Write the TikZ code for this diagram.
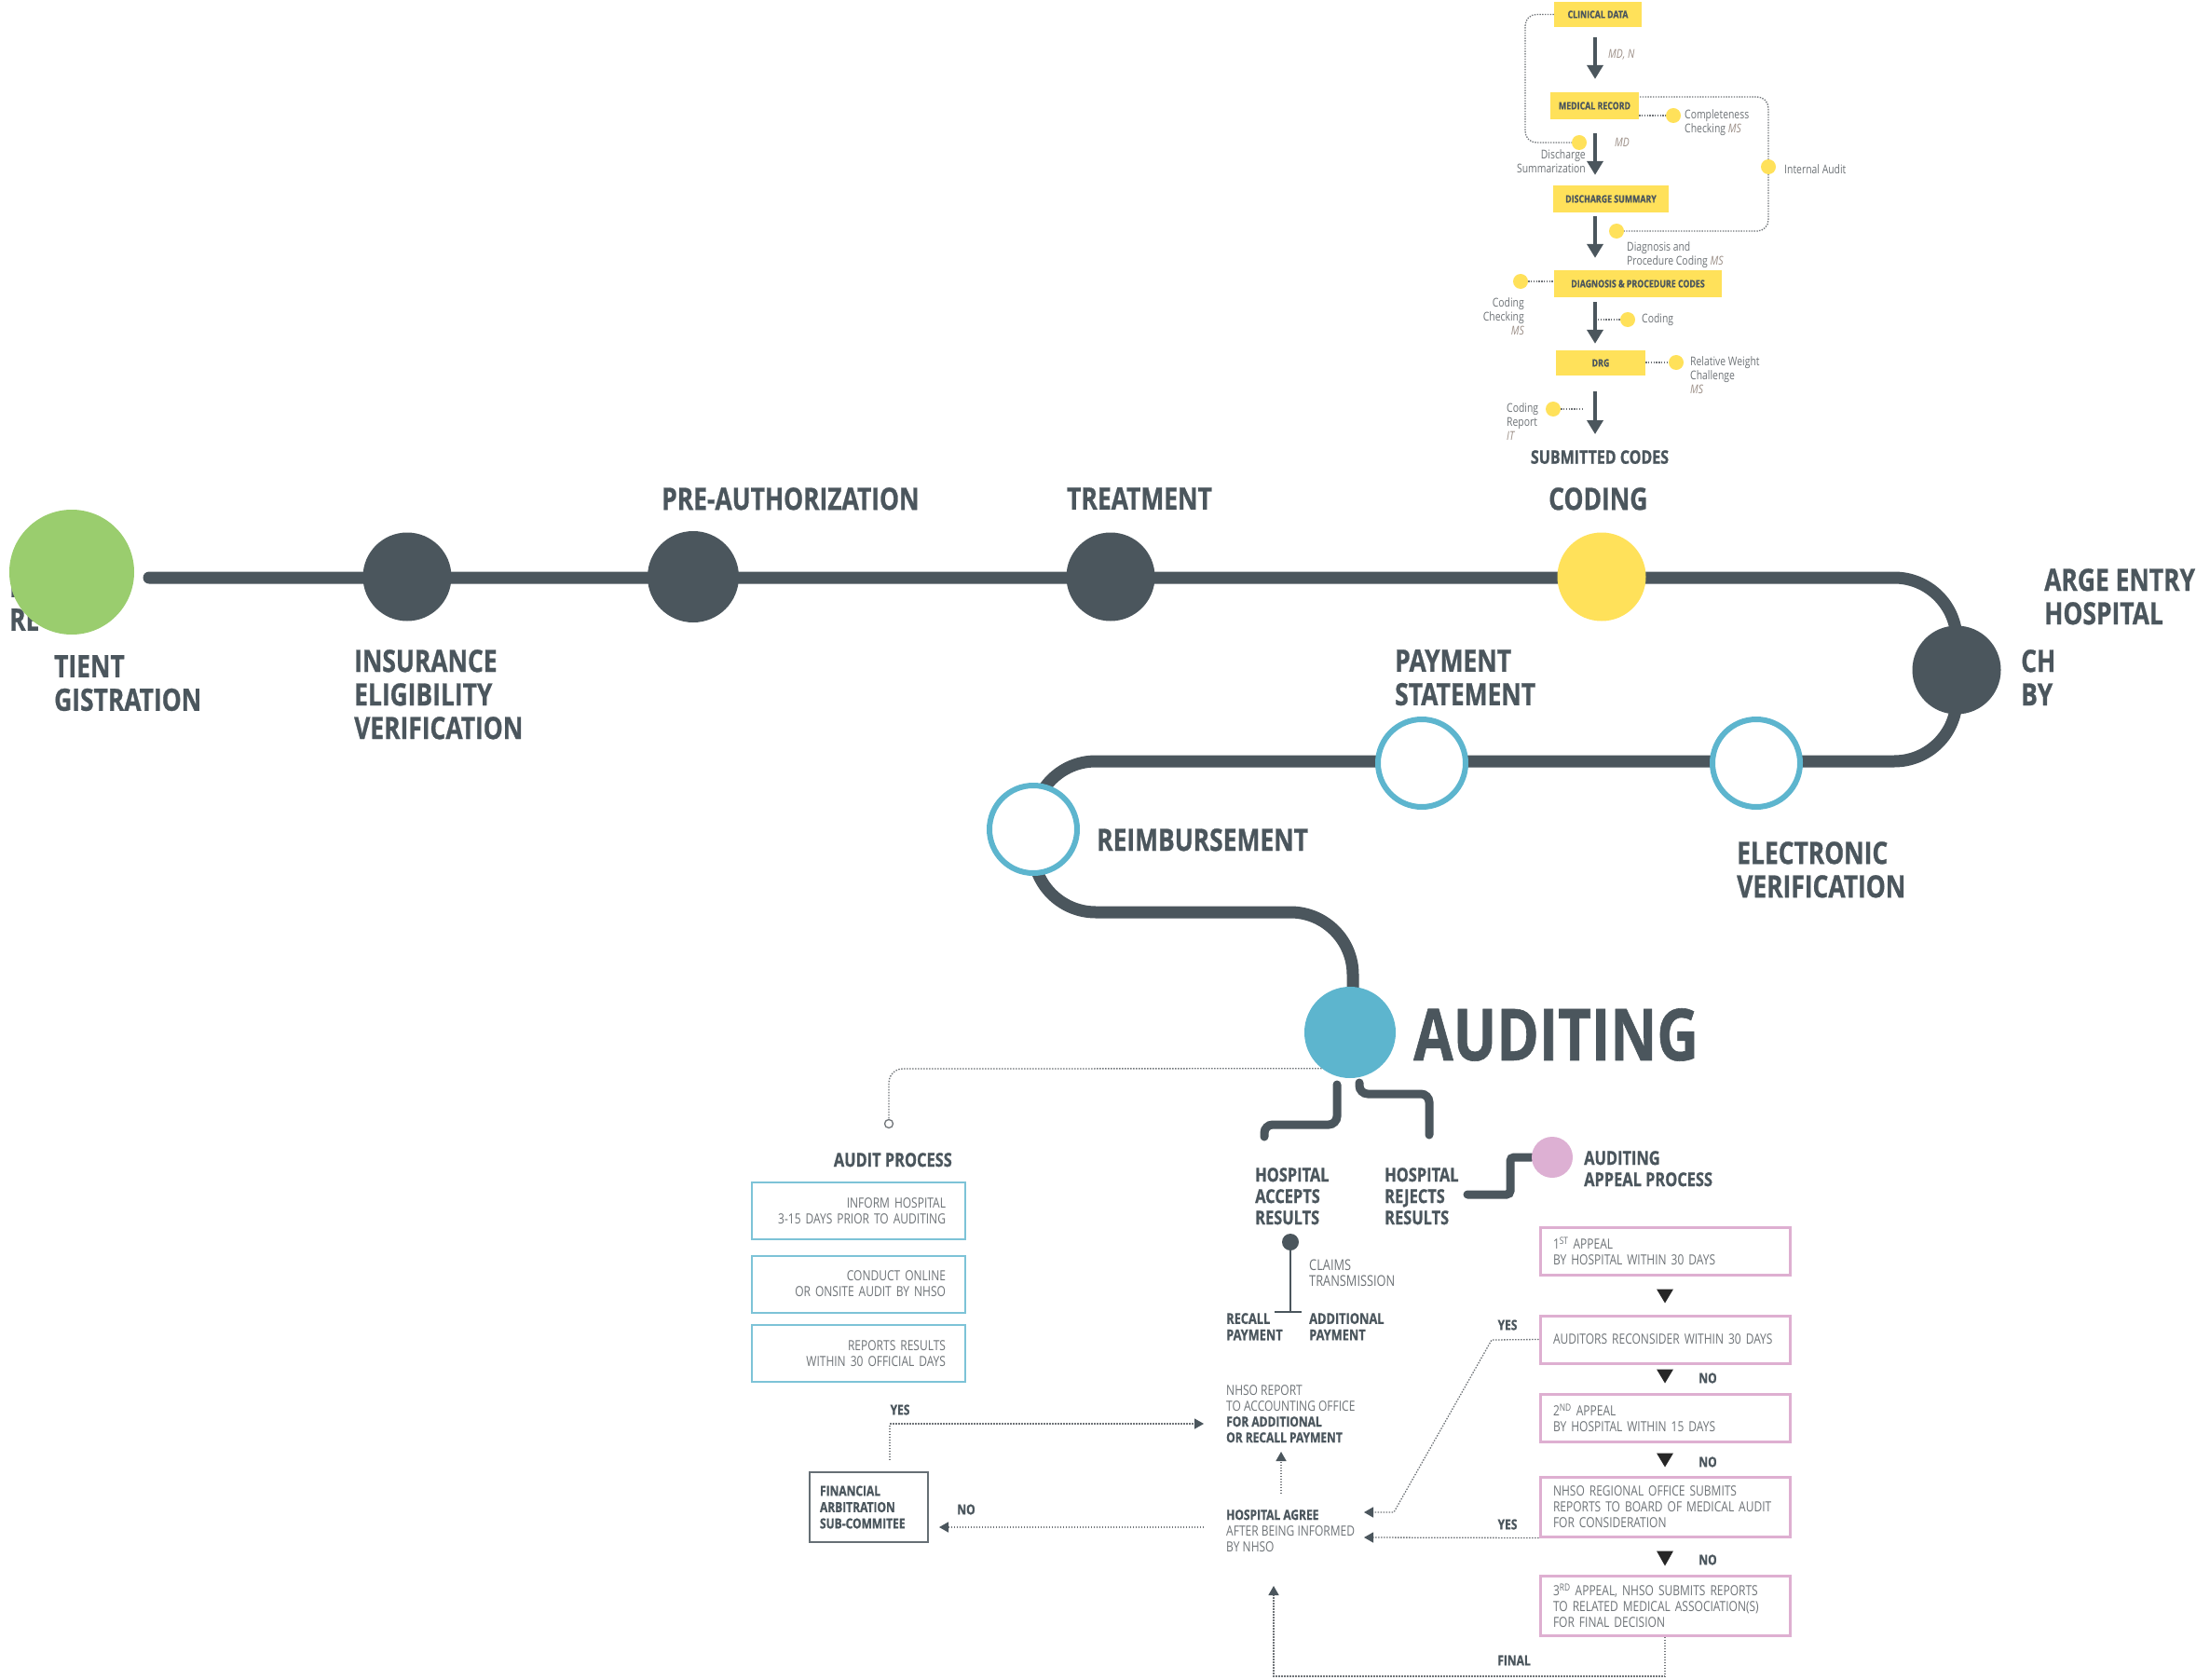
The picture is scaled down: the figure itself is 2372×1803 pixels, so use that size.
\documentclass[tikz,border=0pt]{standalone}
\usepackage{fontspec}
\setmainfont{Open Sans}[FakeStretch=0.8, BoldFeatures={FakeBold=0.8}]
\usetikzlibrary{arrows.meta,calc,backgrounds}
\definecolor{dk}{HTML}{4B565D}
\definecolor{grn}{HTML}{9ACD6E}
\definecolor{ylw}{HTML}{FFE15A}
\definecolor{blu}{HTML}{5DB5CE}
\definecolor{pnk}{HTML}{DDB0D3}
\definecolor{pnkb}{HTML}{DEAFD1}
\definecolor{lbb}{HTML}{7DC3D7}
\definecolor{gtx}{HTML}{6E7377}
\definecolor{brn}{HTML}{9B8E86}
\definecolor{dotc}{HTML}{707478}
\newcommand{\fsz}[2]{\fontsize{#1}{#2}\selectfont}
\begin{document}
\begin{tikzpicture}[x=1pt,y=-1pt,
  route/.style={draw=dk, line width=13, rounded corners=67, line cap=round},
  station/.style={circle, inner sep=0, fill=dk},
  ring/.style={circle, inner sep=0, draw=blu, line width=6, fill=white, minimum size=94},
  biglab/.style={font=\fsz{33}{36}\bfseries, text=dk, inner sep=0, align=left, anchor=north west},
  midlab/.style={font=\fsz{20.5}{23}\bfseries, text=dk, inner sep=0, align=left, anchor=north west},
  ybox/.style={fill=ylw, inner sep=0, font=\fsz{11}{12}\bfseries, text=dk},
  ydot/.style={circle, fill=ylw, inner sep=0, minimum size=16},
  flowarr/.style={draw=dk, line width=4, -{Triangle[width=17pt,length=15pt]}},
  cdots/.style={draw=dotc, line width=1.3, dash pattern=on 1.4pt off 1.4pt},
  small/.style={font=\fsz{13}{15}, text=gtx, inner sep=0, align=left},
  ital/.style={font=\fsz{13}{15}\itshape, text=brn, inner sep=0},
  branch/.style={draw=dk, line width=9, rounded corners=9, line cap=round},
  lbbox/.style={draw=lbb, line width=2, minimum width=229, minimum height=61, text width=187, align=right, inner xsep=21, inner ysep=0, font=\fsz{15}{17}, text=gtx},
  apbox/.style={draw=pnkb, line width=3, minimum width=268, text width=240, inner xsep=14, inner ysep=0, align=left, font=\fsz{15}{17}, text=gtx},
  gsm/.style={font=\fsz{15}{17}, text=gtx, inner sep=0, align=left, anchor=north west},
  bsm/.style={font=\fsz{16}{17.5}\bfseries, text=dk, inner sep=0, align=left, anchor=north west},
  yn/.style={font=\fsz{15}{17}\bfseries, text=dk, inner sep=0},
  ddots/.style={draw=dotc, line width=1.3, dash pattern=on 1.5pt off 1.5pt},
  darr/.style={ddots, -{Triangle[width=11pt,length=10pt,color=dk]}},
  tri/.style={fill=black!85}
]
\useasboundingbox (0,0) rectangle (2372,1803);

% ---------- main line stations ----------
\node[biglab] (plab) at (10,617) {P\\RE};
\node[station, fill=grn, minimum size=134] (reg) at (77,614) {};
\node[biglab] (reglab) at (58,703) {TIENT\\GISTRATION};
\node[station, minimum size=95] (ins) at (437,619) {};
\node[biglab] (inslab) at (380,697) {INSURANCE\\ELIGIBILITY\\VERIFICATION};
\node[station, minimum size=98] (pre) at (744,619) {};
\node[biglab] (prelab) at (710,523) {PRE-AUTHORIZATION};
\node[station, minimum size=95] (trt) at (1192,619) {};
\node[biglab] (trtlab) at (1145,523) {TREATMENT};
\node[station, fill=ylw, minimum size=95] (cod) at (1719,619) {};
\node[biglab] (codlab) at (1662,523) {CODING};
\node[station, minimum size=95] (dis) at (2100,719) {};
\node[biglab] (dislab1) at (2194,610) {ARGE ENTRY\\HOSPITAL};
\node[biglab] (dislab2) at (2169,697) {CH\\BY};
\node[ring] (elv) at (1885,819) {};
\node[biglab] (elvlab) at (1864,903) {ELECTRONIC\\VERIFICATION};
\node[ring] (pay) at (1526,819) {};
\node[biglab] (paylab) at (1497,697) {PAYMENT\\STATEMENT};
\node[ring] (rmb) at (1109,890) {};
\node[biglab] (rmblab) at (1177,889) {REIMBURSEMENT};
\node[station, fill=blu, minimum size=98] (aud) at (1449,1108) {};
\node[font=\fsz{77}{80}\bfseries, text=dk, inner sep=0, anchor=north west] (audlab) at (1517,1082) {AUDITING};
\coordinate (rs) at (160,620);
\coordinate (re) at (1452,1100);

% ---------- coding flow ----------
\node[ybox, minimum width=94, minimum height=27] (cd) at (1715,15.5) {CLINICAL DATA};
\node[ybox, minimum width=95, minimum height=29] (mr) at (1711.5,113.5) {MEDICAL RECORD};
\node[ybox, minimum width=124, minimum height=29] (ds) at (1729,213.5) {DISCHARGE SUMMARY};
\node[ybox, minimum width=180, minimum height=29] (dp) at (1758,304.5) {DIAGNOSIS \& PROCEDURE CODES};
\node[ybox, minimum width=96, minimum height=27] (drg) at (1718,389.5) {DRG};
\node[font=\fsz{20}{22}\bfseries, text=dk, inner sep=0, anchor=north] (sub) at (1717,483) {SUBMITTED CODES};
\coordinate (ax) at (1712,0);

\node[ydot] (d1) at (1695,153) {};
\node[ydot] (d2) at (1796,124) {};
\node[ydot] (d3) at (1898,179) {};
\node[ydot] (d4) at (1735,248) {};
\node[ydot] (d5) at (1632,302) {};
\node[ydot] (d6) at (1747,343) {};
\node[ydot] (d7) at (1799,389) {};
\node[ydot] (d8) at (1667,439) {};
\coordinate (ia0) at (1760,104);
\coordinate (c6) at (1715,343);
\coordinate (c8) at (1700,439);

\node[ital, anchor=west] (mdn) at (1726,59) {MD, N};
\node[ital, anchor=west] (md) at (1733,153) {MD};
\node[small, align=right, anchor=north east] (t1) at (1702,160) {Discharge\\Summarization};
\node[small, anchor=north west] (t2) at (1808,117) {Completeness\\Checking \textcolor{brn}{\itshape MS}};
\node[small, anchor=west] (t3) at (1915,182) {Internal Audit};
\node[small, anchor=north west] (t4) at (1746,259) {Diagnosis and\\Procedure Coding \textcolor{brn}{\itshape MS}};
\node[small, align=right, anchor=north east] (t5) at (1636,319) {Coding\\Checking\\\textcolor{brn}{\itshape MS}};
\node[small, anchor=west] (t6) at (1762,343) {Coding};
\node[small, anchor=north west] (t7) at (1814,382) {Relative Weight\\Challenge\\\textcolor{brn}{\itshape MS}};
\node[small, anchor=north west] (t8) at (1617,432) {Coding\\Report\\\textcolor{brn}{\itshape IT}};

% ---------- auditing area ----------
\node[circle, draw=dotc, line width=1.3, fill=white, inner sep=0, minimum size=9] (sc) at (954,1206) {};
\node[midlab, anchor=north east] (aplab) at (1022,1237) {AUDIT PROCESS};
\node[lbbox] (p1) at (921.5,1299.5) {INFORM HOSPITAL\\3-15 DAYS PRIOR TO AUDITING};
\node[lbbox] (p2) at (921.5,1378) {CONDUCT ONLINE\\OR ONSITE AUDIT BY NHSO};
\node[lbbox] (p3) at (921.5,1452.5) {REPORTS RESULTS\\WITHIN 30 OFFICIAL DAYS};

\node[midlab] (acc) at (1347,1253) {HOSPITAL\\ACCEPTS\\RESULTS};
\node[midlab] (rej) at (1486,1253) {HOSPITAL\\REJECTS\\RESULTS};
\node[station, fill=pnk, minimum size=44] (app) at (1666,1242) {};
\node[midlab] (applab) at (1700,1235) {AUDITING\\APPEAL PROCESS};
\coordinate (bl0) at (1435,1164);
\coordinate (bl1) at (1357,1220);
\coordinate (br0) at (1459,1162);
\coordinate (br1) at (1534,1218);
\coordinate (rj0) at (1575,1282);

\node[station, minimum size=18] (cl) at (1385,1333) {};
\coordinate (clb) at (1385,1408);
\coordinate (tl) at (1368,1408);
\coordinate (tr) at (1397,1408);
\node[font=\fsz{16}{17}, text=gtx, inner sep=0, align=left, anchor=north west] (cltxt) at (1405,1352) {CLAIMS\\TRANSMISSION};
\node[bsm] (recall) at (1316,1409) {RECALL\\PAYMENT};
\node[bsm] (addp) at (1405,1409) {ADDITIONAL\\PAYMENT};

\node[gsm] (rep) at (1316,1486) {NHSO REPORT\\TO ACCOUNTING OFFICE\\\textcolor{dk}{\bfseries FOR ADDITIONAL}\\\textcolor{dk}{\bfseries OR RECALL PAYMENT}};
\node[gsm] (agr) at (1316,1620) {\textcolor{dk}{\bfseries HOSPITAL AGREE}\\AFTER BEING INFORMED\\BY NHSO};
\coordinate (up0) at (1375,1603);
\coordinate (up1) at (1375,1558);

\node[apbox, minimum height=51] (b1) at (1787,1342.5) {1\textsuperscript{ST} APPEAL\\BY HOSPITAL WITHIN 30 DAYS};
\node[apbox, minimum height=51] (b2) at (1787,1437.5) {AUDITORS RECONSIDER WITHIN 30 DAYS};
\node[apbox, minimum height=51] (b3) at (1787,1521.5) {2\textsuperscript{ND} APPEAL\\BY HOSPITAL WITHIN 15 DAYS};
\node[apbox, minimum height=64] (b4) at (1787,1617) {NHSO REGIONAL OFFICE SUBMITS\\REPORTS TO BOARD OF MEDICAL AUDIT\\FOR CONSIDERATION};
\node[apbox, minimum height=64] (b5) at (1787,1723) {3\textsuperscript{RD} APPEAL, NHSO SUBMITS REPORTS\\TO RELATED MEDICAL ASSOCIATION(S)\\FOR FINAL DECISION};
\fill[tri] ($(b1.south)+(-9,14)$) -- ++(18,0) -- ++(-9,15) -- cycle;
\fill[tri] ($(b2.south)+(-9,5)$) -- ++(18,0) -- ++(-9,15) -- cycle;
\fill[tri] ($(b3.south)+(-9,11)$) -- ++(18,0) -- ++(-9,15) -- cycle;
\fill[tri] ($(b4.south)+(-9,14)$) -- ++(18,0) -- ++(-9,16) -- cycle;
\node[yn] (no1) at (1833,1479) {NO};
\node[yn] (no2) at (1833,1569) {NO};
\node[yn] (no3) at (1833,1674) {NO};
\node[yn] (yes1) at (1618,1422) {YES};
\node[yn] (yes2) at (1618,1636) {YES};
\node[yn] (fin) at (1625,1782) {FINAL};
\coordinate (y1a) at (1601,1438);
\coordinate (y1b) at (1496,1623);
\coordinate (y1c) at (1464,1623);
\coordinate (y2c) at (1464,1650);
\coordinate (fa) at (1787,1799);
\coordinate (fb) at (1367,1799);
\coordinate (fc) at (1367,1702);

\node[draw=dk!85, line width=2, minimum width=127, minimum height=75, text width=105, inner xsep=11, inner ysep=0, align=left, font=\fsz{15}{17.5}\bfseries, text=dk] (fas) at (932.5,1617.5) {FINANCIAL\\ARBITRATION\\SUB-COMMITEE};
\node[yn] (yes3) at (966,1513) {YES};
\node[yn] (no4) at (1037,1620) {NO};
\coordinate (fy0) at (955,1567);
\coordinate (fy1) at (955,1528);
\coordinate (fy2) at (1292,1528);
\coordinate (fn0) at (1292,1639);
\coordinate (fn1) at (1008,1639);

% ---------- connectors (below nodes) ----------
\begin{scope}[on background layer]
\fill[white] (0,0) rectangle (2372,1803);
\draw[route] (rs) -- (2100,620) -- (2100,817) -- (1109,817) -- (1109,979) -- (1452,979) -- (re);

\draw[flowarr, shorten <=11pt, shorten >=14pt] (cd.south -| ax) -- (mr.north -| ax);
\draw[flowarr, shorten <=15pt, shorten >=11pt] (mr.south -| ax) -- (ds.north -| ax);
\draw[flowarr, shorten <=4pt, shorten >=13pt] (ds.south -| ax) -- (dp.north -| ax);
\draw[flowarr, shorten <=5pt, shorten >=7pt] (dp.south -| ax) -- (drg.north -| ax);
\draw[flowarr, shorten <=17pt, shorten >=17pt] (drg.south -| ax) -- (sub.north -| ax);

\draw[cdots, rounded corners=12] (cd.west) -| (1637,153) -- (d1);
\draw[cdots] (mr.east |- d2) -- (d2);
\draw[cdots, rounded corners=12] (ia0) -- (1898,104) -- (1898,248) -- (d4);
\draw[cdots] (d5) -- (dp.west |- d5);
\draw[cdots] (c6) -- (d6);
\draw[cdots] (drg.east |- d7) -- (d7);
\draw[cdots] (d8) -- (c8);

\draw[ddots, rounded corners=15] (aud.232) -- (954,1147) -- (sc.north);
\draw[branch] (bl0) -- (1435,1207) -- (1357,1207) -- (bl1);
\draw[branch] (br0) -- (1459,1174) -- (1534,1174) -- (br1);
\draw[branch, rounded corners=4] (rj0) -- (1621,1282) -- (1621,1242) -- (app.west);
\draw[dk, line width=2.5] (cl) -- (clb);
\draw[dk, line width=2.5] (tl) -- (tr);

\draw[darr] (up0) -- (up1);
\draw[darr] (b2.west) -- (y1a) -- (y1b) -- (y1c);
\draw[darr] (b4.south west) -- (y2c);
\draw[darr] (b5.south) -- (fa) -- (fb) -- (fc);
\draw[darr] (fy0) -- (fy1) -- (fy2);
\draw[darr] (fn0) -- (fn1);
\end{scope}
\end{tikzpicture}
\end{document}
